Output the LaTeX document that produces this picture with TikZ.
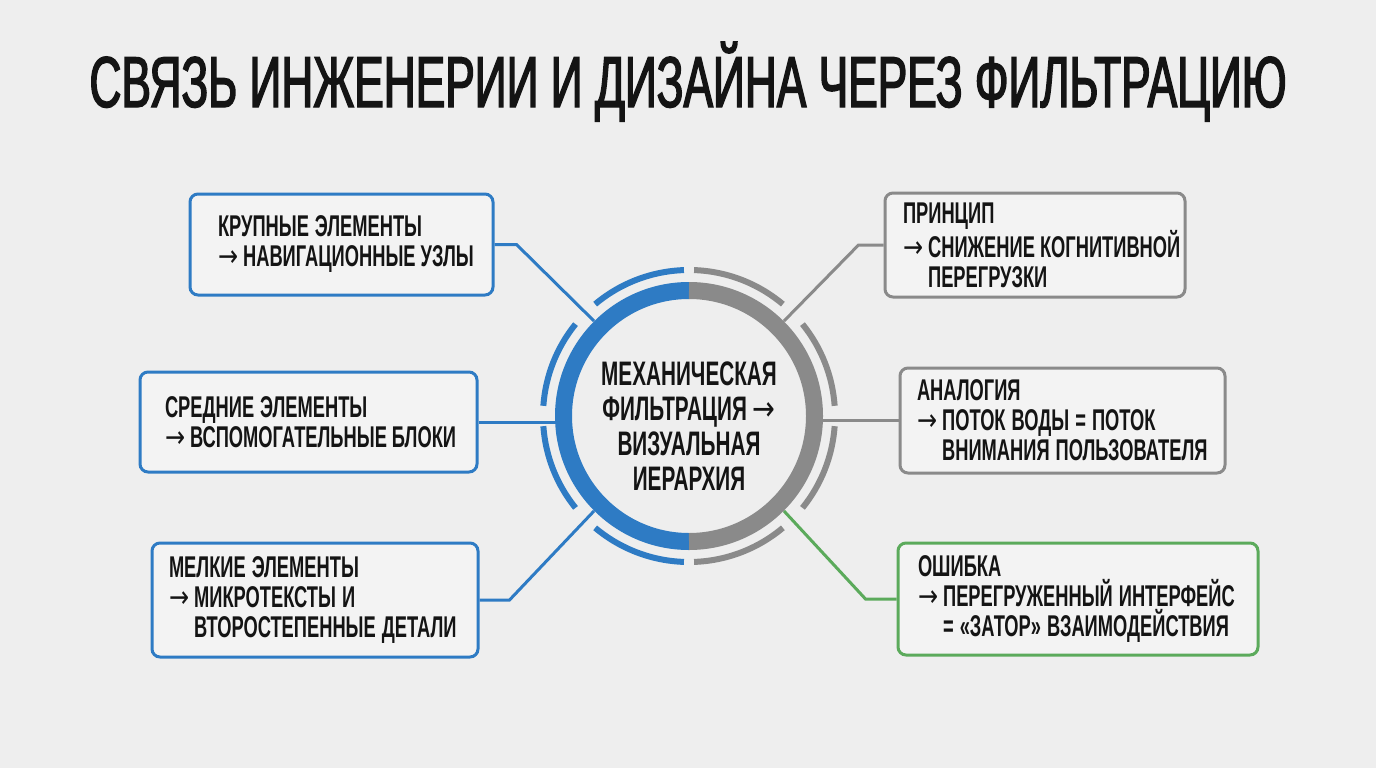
\documentclass[tikz,border=0pt]{standalone}
\usepackage{fontspec}
\setmainfont{Liberation Sans}[FakeStretch=0.61, UprightFont=*-Bold]
\newfontfamily\titlefont{Liberation Sans}[FakeStretch=0.615, FakeBold=2]
\newfontfamily\arrfont{DejaVu Sans}[FakeStretch=0.8]
\usepackage{xcolor}
\usepackage{tikz}
\usetikzlibrary{positioning, calc}

\definecolor{bgcol}{HTML}{EEEEEE}
\definecolor{cardfill}{HTML}{F3F3F3}
\definecolor{inkcol}{HTML}{141414}
\definecolor{blueline}{HTML}{2E7BC4}
\definecolor{grayline}{HTML}{8A8A8A}
\definecolor{greenline}{HTML}{5BAA5B}

\newcommand{\arr}{{\arrfont →}\nobreak\hspace{5pt}}
\newcommand{\ind}{\hphantom{\arr}}

\begin{document}
\begin{tikzpicture}[x=1pt, y=-1pt, font=\fontsize{30}{30}\selectfont, text=inkcol,
        tight/.style={execute at begin node={\spaceskip=6pt plus 1pt minus 1pt}},
        card/.style={tight, rounded corners=8pt, draw=#1, fill=cardfill, line width=3pt,
                     align=left, inner ysep=0pt},
        link/.style={draw=#1, line width=3pt},
        arcpiece/.style={draw=#1, line width=6pt}]
      \fill[bgcol] (0,0) rectangle (1376,768);
      \useasboundingbox (0,0) rectangle (1376,768);

      \node[anchor=base, font=\titlefont\fontsize{72}{80}\selectfont] (title) at (688,107)
        {СВЯЗЬ ИНЖЕНЕРИИ И ДИЗАЙНА ЧЕРЕЗ ФИЛЬТРАЦИЮ};

      % hub
      \node[circle, minimum size=268pt, inner sep=0pt] (hub) at (689,416) {};
      \node[tight, align=center, font=\fontsize{34}{35}\selectfont] (hubtext) at (689,426)
        {МЕХАНИЧЕСКАЯ\\ФИЛЬТРАЦИЯ {\arrfont →}\\ВИЗУАЛЬНАЯ\\ИЕРАРХИЯ};

      % left cards
      \node[card=blueline, minimum width=303pt, minimum height=101pt, inner xsep=28pt,
            text width=247pt] (krup) at (341.5,244.5)
        {КРУПНЫЕ~ЭЛЕМЕНТЫ\\\arr НАВИГАЦИОННЫЕ~УЗЛЫ};
      \node[card=blueline, minimum width=337pt, minimum height=100pt, inner xsep=25pt,
            text width=287pt] (sred) at (308.5,422)
        {СРЕДНИЕ~ЭЛЕМЕНТЫ\\\arr ВСПОМОГАТЕЛЬНЫЕ~БЛОКИ};
      \node[card=blueline, minimum width=326pt, minimum height=114pt, inner xsep=17pt,
            text width=292pt] (melk) at (315,600)
        {МЕЛКИЕ~ЭЛЕМЕНТЫ\\\arr МИКРОТЕКСТЫ~И\\\ind ВТОРОСТЕПЕННЫЕ~ДЕТАЛИ};

      % right cards
      \node[card=grayline, minimum width=300pt, minimum height=104pt, inner xsep=18pt,
            text width=264pt] (princ) at (1035,245)
        {ПРИНЦИП\\\arr СНИЖЕНИЕ~КОГНИТИВНОЙ\\\ind ПЕРЕГРУЗКИ};
      \node[card=grayline, minimum width=325pt, minimum height=105pt, inner xsep=17pt,
            text width=291pt] (analog) at (1062.5,420.5)
        {АНАЛОГИЯ\\\arr ПОТОК~ВОДЫ~=~ПОТОК\\\ind ВНИМАНИЯ~ПОЛЬЗОВАТЕЛЯ};
      \node[card=greenline, minimum width=360pt, minimum height=112pt, inner xsep=20pt,
            text width=320pt] (oshib) at (1078,599)
        {ОШИБКА\\\arr ПЕРЕГРУЖЕННЫЙ~ИНТЕРФЕЙС\\\ind =~«ЗАТОР»~ВЗАИМОДЕЙСТВИЯ};

      % connectors
      \draw[link=blueline] (krup.east) -- ++(22,0) -- (hub.135);
      \draw[link=blueline] (sred.east) -- (sred.east -| hub.west);
      \draw[link=blueline] (melk.east) -- ++(30,0) -- (hub.225);
      \draw[link=grayline] (princ.west) -- ++(-25,0) -- (hub.45);
      \draw[link=grayline] (analog.west) -- (analog.west -| hub.east);
      \draw[link=greenline] (oshib.west) -- ++(-31,0) -- (hub.-45);

      % ring
      \draw[blueline, line width=17pt] (hub.center) ++(90:125.5pt)
        arc[start angle=90, end angle=270, radius=125.5pt];
      \draw[grayline, line width=17pt] (hub.center) ++(-90:125.5pt)
        arc[start angle=-90, end angle=90, radius=125.5pt];
      \foreach \a/\b in {92/130, 141/176, 184/219, 230/268}
        \draw[arcpiece=blueline] (hub.center) ++(\a:146pt)
          arc[start angle=\a, end angle=\b, radius=146pt];
      \foreach \a/\b in {-88/-50, -39/-4, 4/39, 50/88}
        \draw[arcpiece=grayline] (hub.center) ++(\a:146pt)
          arc[start angle=\a, end angle=\b, radius=146pt];
    \end{tikzpicture}
\end{document}
